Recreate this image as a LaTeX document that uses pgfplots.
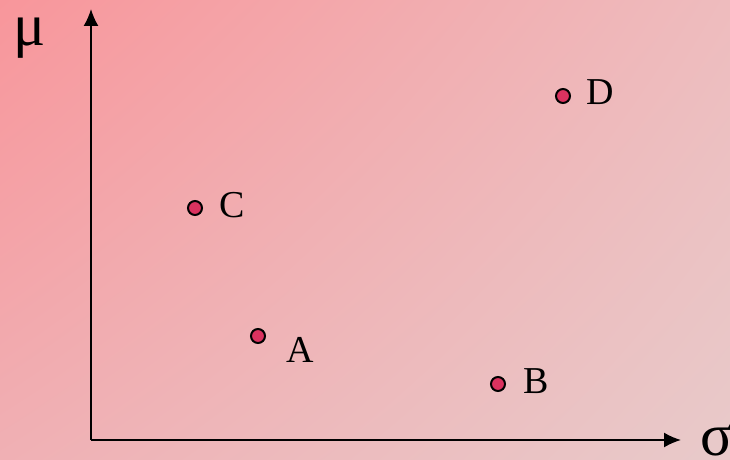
\documentclass[border=0pt]{standalone}
\usepackage{pgfplots}
\pgfplotsset{compat=1.18}
\usetikzlibrary{shadings,arrows.meta}
\usepackage{fontspec}
\setmainfont{Liberation Serif}
\definecolor{bgTL}{RGB}{248,150,155}
\definecolor{bgTR}{RGB}{238,188,190}
\definecolor{bgBL}{RGB}{240,176,180}
\definecolor{bgBR}{RGB}{232,202,202}
\definecolor{dotfill}{RGB}{218,50,95}
\begin{document}
\begin{tikzpicture}
\begin{axis}[
  scale only axis, width=730bp, height=459bp,
  xmin=-91, xmax=639, ymin=-19, ymax=440,
  hide axis, clip=false,
]
\coordinate (ll) at (rel axis cs:0,0);
\coordinate (ur) at (rel axis cs:1,1);
\shade[upper left=bgTL, upper right=bgTR, lower left=bgBL, lower right=bgBR]
  (rel axis cs:0,0) rectangle (rel axis cs:1,1);
\draw[line width=1.8bp, -{Latex[length=17bp,width=15bp]}] (axis cs:0,0) -- (axis cs:0,431);
\draw[line width=1.8bp, -{Latex[length=17bp,width=15bp]}] (axis cs:0,0) -- (axis cs:590,0);
\addplot[only marks, mark=*, mark size=7bp,
  mark options={draw=black, line width=2bp, fill=dotfill}]
  coordinates {(167,104) (407,56) (104,232) (472,344)};
\node[font=\fontsize{60bp}{70bp}\selectfont, anchor=base, inner sep=0pt] at (axis cs:-61,394) {μ};
\node[font=\fontsize{60bp}{70bp}\selectfont, anchor=base west, inner sep=0pt] at (axis cs:609,-15) {σ};
\node[font=\fontsize{38bp}{44bp}\selectfont] at (axis cs:209,90) {A};
\node[font=\fontsize{38bp}{44bp}\selectfont] at (axis cs:445,59) {B};
\node[font=\fontsize{38bp}{44bp}\selectfont] at (axis cs:141,235) {C};
\node[font=\fontsize{38bp}{44bp}\selectfont] at (axis cs:509,348) {D};
\end{axis}
\pgfresetboundingbox
\path[use as bounding box] (ll) rectangle (ur);
\end{tikzpicture}
\end{document}
